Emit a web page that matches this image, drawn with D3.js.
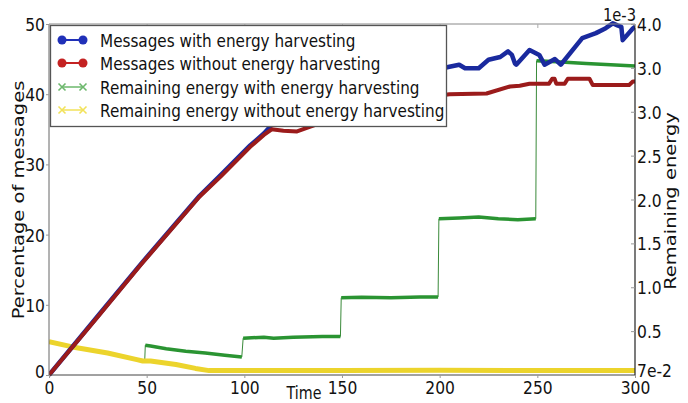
<!DOCTYPE html>
<html><head><meta charset="utf-8">
<script src="https://cdn.jsdelivr.net/npm/d3@7"></script>
<style>body{margin:0;background:#fff} svg{display:block}</style>
</head><body><svg id="c" width="688" height="403"></svg>
<script>
// ---- data ----
const timeTicks = [0, 50, 100, 150, 200, 250, 300];
const pctTicks = [0, 10, 20, 30, 40, 50];
const energyTicks = [0, 0.5, 1, 1.5, 2, 2.5, 3, 3.5, 4];
const energyTickLabels = ["7e-2", "0.5", "1.0", "1.5", "2.0", "2.5", "3.0", "3.0", "4.0"];
const seriesNames = [
  "Messages with energy harvesting",
  "Messages without energy harvesting",
  "Remaining energy with energy harvesting",
  "Remaining energy without energy harvesting"
];
// [time, percentage of messages]
const msgWith = [[0,0],[25,8.4],[47,15.8],[77,25.5],[88,28.5],[103,32.7],[110,34.4],[114,35.6],[120,37],[140,39],[160,41],[180,42.5],[200,43.6],[205,43.9],[210,44.2],[213,43.7],[220,43.7],[225,44.9],[231,45.3],[235,46.1],[237,45.6],[238.5,44.4],[239.2,44.2],[246,46.3],[251,45.6],[253.7,44.2],[259,45],[262,44.2],[273,48],[280,48.7],[285,49.4],[288.6,50.1],[291,49.8],[293,49.6],[293.7,47.7],[299,49.4],[300,49.6]];
const msgWithout = [[0,0],[25,8.3],[47,15.7],[77,25.4],[88,28.3],[103,32.5],[110,34.2],[114,35],[120,34.8],[127,34.7],[132,35.2],[140,36],[160,37.6],[180,38.8],[200,39.8],[205,40.0],[224,40.1],[236,41.1],[241,41.2],[246,41.5],[256,41.5],[257.6,42.2],[258.8,42.2],[259.7,41.5],[264,41.5],[265.6,42.2],[276.7,42.2],[278.4,41.3],[297,41.3],[298.9,41.8],[300,41.8]];
// [time, remaining energy (x1e-3)]
const energyWith = [[49,0.16],[49.3,0.34],[52,0.33],[60,0.30],[70,0.27],[80,0.25],[90,0.225],[98.7,0.205],[99.4,0.42],[110,0.43],[115,0.42],[125,0.43],[140,0.44],[149.2,0.44],[149.6,0.88],[160,0.885],[175,0.88],[190,0.89],[199.2,0.89],[199.6,1.78],[210,1.79],[220,1.80],[230,1.78],[240,1.77],[249.2,1.78],[249.6,3.58],[260,3.57],[275,3.55],[300,3.52]];
const energyWithout = [[0,0.38],[12,0.32],[30,0.25],[45,0.175],[48,0.16],[52,0.16],[65,0.12],[75,0.075],[82,0.05],[100,0.05],[150,0.05],[200,0.055],[250,0.05],[300,0.05]];

// ---- layout ----
const L = 49, R = 635, T = 24, B = 375;
const svg = d3.select("#c");
const FONT = "DejaVu Sans, Verdana, sans-serif";

const x = d3.scaleLinear().domain([0, 300]).range([L, R]);
const yL = d3.scaleLinear().domain([0, 50]).range([B, T]);
const yR = d3.scaleLinear().domain([0, 4]).range([B, T]);

function txt(g, px, py, s, size, anchor, rot, sx) {
  const k = sx || 0.84;
  return g.append("text")
    .attr("transform", `translate(${px},${py}) scale(${k},1)` + (rot ? ` rotate(${rot})` : ""))
    .attr("font-family", FONT).attr("font-size", size).attr("fill", "#111")
    .attr("text-anchor", anchor || "start").text(s);
}

svg.append("defs").append("clipPath").attr("id", "clip")
  .append("rect").attr("x", L).attr("y", T - 4).attr("width", R - L).attr("height", B - T + 8);

const plot = svg.append("g").attr("clip-path", "url(#clip)");

const lineE = d3.line().x(d => x(d[0])).y(d => yR(d[1]));
const lineM = d3.line().x(d => x(d[0])).y(d => yL(d[1]));

// green: thin connecting line + thick marker band broken at jumps
plot.append("path").attr("d", lineE(energyWith)).attr("fill", "none")
  .attr("stroke", "#3a8a3a").attr("stroke-width", 1);
const segs = [];
let cur = [energyWith[0]];
for (let i = 1; i < energyWith.length; i++) {
  if (energyWith[i][0] - energyWith[i - 1][0] < 0.8) { segs.push(cur); cur = [energyWith[i]]; }
  else cur.push(energyWith[i]);
}
segs.push(cur);
segs.filter(s => s.length > 1).forEach(s => {
  plot.append("path").attr("d", lineE(s)).attr("fill", "none")
    .attr("stroke", "#2a9432").attr("stroke-width", 3.5).attr("stroke-linejoin", "round");
});

plot.append("path").attr("d", lineE(energyWithout)).attr("fill", "none")
  .attr("stroke", "#ecd42c").attr("stroke-width", 5).attr("stroke-linejoin", "round");

plot.append("path").attr("d", lineM(msgWith)).attr("fill", "none")
  .attr("stroke", "#1a2a9e").attr("stroke-width", 4.5).attr("stroke-linejoin", "round");
plot.append("path").attr("d", lineM(msgWithout)).attr("fill", "none")
  .attr("stroke", "#9b1b1b").attr("stroke-width", 4).attr("stroke-linejoin", "round");

// ---- axes ----
const ax = svg.append("g");
ax.append("line").attr("x1", L).attr("x2", R).attr("y1", T).attr("y2", T).attr("stroke", "#888").attr("stroke-width", 1);
ax.append("line").attr("x1", L).attr("x2", R).attr("y1", B).attr("y2", B).attr("stroke", "#444").attr("stroke-width", 1);
ax.append("line").attr("x1", L).attr("x2", L).attr("y1", T).attr("y2", B).attr("stroke", "#666").attr("stroke-width", 1);
ax.append("line").attr("x1", R).attr("x2", R).attr("y1", T).attr("y2", B).attr("stroke", "#222").attr("stroke-width", 1.2);

// bottom axis
const bottom = svg.append("g").attr("transform", `translate(0,${B})`)
  .call(d3.axisBottom(x).tickValues(timeTicks).tickSize(3).tickSizeOuter(0));
bottom.select(".domain").remove();
bottom.selectAll(".tick line").attr("stroke", "#999");
bottom.selectAll(".tick text").remove();
bottom.selectAll(".tick").each(function (d) {
  txt(d3.select(this), 0, 18.5, String(d), 18.5, "middle");
});
// top ticks (inward)
svg.append("g").attr("transform", `translate(0,${T})`)
  .call(d3.axisTop(x).tickValues(timeTicks).tickSize(-4).tickSizeOuter(0).tickFormat(""))
  .call(g => g.select(".domain").remove())
  .call(g => g.selectAll(".tick line").attr("stroke", "#aaa"));

// left axis
const left = svg.append("g").attr("transform", `translate(${L},0)`)
  .call(d3.axisLeft(yL).tickValues(pctTicks).tickSize(3).tickSizeOuter(0));
left.select(".domain").remove();
left.selectAll(".tick line").attr("stroke", "#999");
left.selectAll(".tick text").remove();
left.selectAll(".tick").each(function (d) {
  txt(d3.select(this), -4, d === 0 ? 2 : 6.5, String(d), 18.5, "end");
});

// right axis
const right = svg.append("g").attr("transform", `translate(${R},0)`)
  .call(d3.axisRight(yR).tickValues(energyTicks).tickSize(-4).tickSizeOuter(0));
right.select(".domain").remove();
right.selectAll(".tick line").attr("stroke", "#999");
right.selectAll(".tick text").remove();
right.selectAll(".tick").each(function (d, i) {
  txt(d3.select(this), 2, d === 0 ? 1 : 6.5, energyTickLabels[i], 18.5, "start");
});
txt(svg, R + 1, 21, "1e-3", 17.5, "end");

// axis titles
txt(svg, 24, 200, "Percentage of messages", 19.5, "middle", -90);
txt(svg, 676, 201, "Remaining energy", 19.5, "middle", -90);
txt(svg, 304, 399, "Time", 17, "middle");

// ---- legend ----
const lg = svg.append("g");
lg.append("rect").attr("x", 50.5).attr("y", 25.5).attr("width", 396).attr("height", 101)
  .attr("fill", "#fff").attr("stroke", "#555").attr("stroke-width", 1.3);
const legColors = ["#2030b8", "#c42222", "#6db86d", "#f2e25a"];
const legMarker = ["o", "o", "x", "x"];
const rowY = [40, 63, 87, 110];
seriesNames.forEach((name, i) => {
  const cy = rowY[i];
  lg.append("line").attr("x1", 62).attr("x2", 83).attr("y1", cy).attr("y2", cy)
    .attr("stroke", legColors[i]).attr("stroke-width", legMarker[i] === "o" ? 2 : 1.5);
  [62, 83].forEach(mx => {
    if (legMarker[i] === "o") {
      lg.append("circle").attr("cx", mx).attr("cy", cy).attr("r", 4.5).attr("fill", legColors[i]);
    } else {
      lg.append("path").attr("d", `M${mx - 3.5},${cy - 3.5}L${mx + 3.5},${cy + 3.5}M${mx - 3.5},${cy + 3.5}L${mx + 3.5},${cy - 3.5}`)
        .attr("stroke", legColors[i]).attr("stroke-width", 1.6);
    }
  });
  txt(lg, 100, cy + 6.5, name, 17.5, "start", null, 0.87);
});
</script>
</body></html>
